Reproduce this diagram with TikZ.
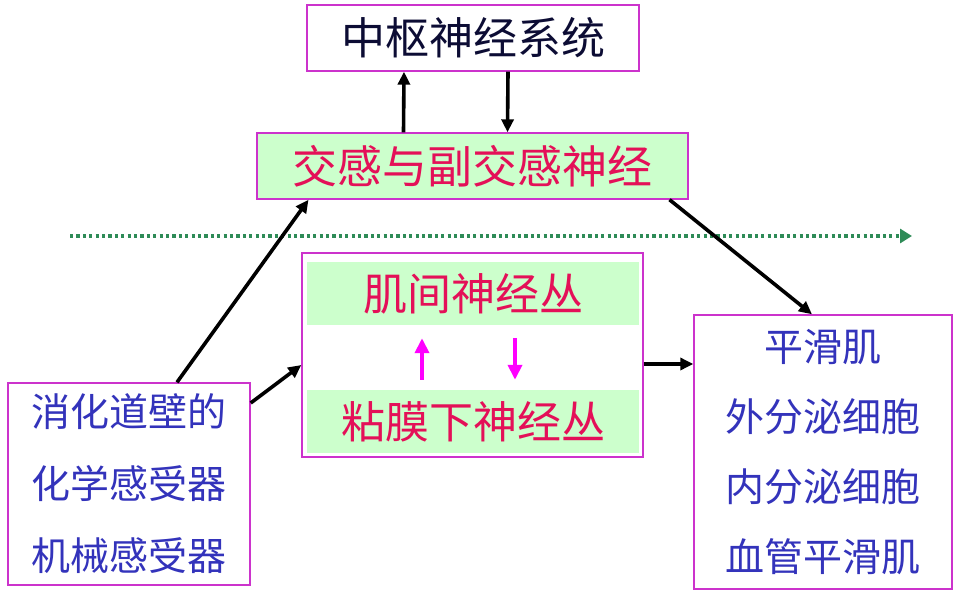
\documentclass[tikz,border=0pt]{standalone}
\usepackage{xcolor}
\usepackage{fontspec}
\setmainfont{Noto Sans CJK SC}
\usepackage{tikz}
\usetikzlibrary{arrows.meta, positioning}

\definecolor{boxline}{RGB}{204,51,204}
\definecolor{paleGreen}{RGB}{204,255,204}
\definecolor{crimsonText}{RGB}{228,16,88}
\definecolor{blueText}{RGB}{51,51,187}
\definecolor{navyText}{RGB}{12,12,52}
\definecolor{dotGreen}{RGB}{46,139,87}
\definecolor{pinkArrow}{RGB}{255,0,255}

\begin{document}
\begin{tikzpicture}[x=1pt, y=-1pt,
    box/.style={draw=boxline, line width=1.4pt, inner sep=0pt},
    band/.style={fill=paleGreen, inner sep=0pt, minimum width=332pt, minimum height=63pt,
        text=crimsonText, font=\fontsize{44}{50}\selectfont},
    conn/.style={-{Triangle[length=13pt, width=12pt]}, line width=3.6pt, black},
    pinkarrow/.style={-{Triangle[length=15pt, width=14pt]}, line width=4.4pt, pinkArrow}]
    \useasboundingbox (0,0) rectangle (962,594);
    % Central nervous system and autonomic nerves
    \node[box, minimum width=332pt, minimum height=66pt, text=navyText,
        font=\fontsize{44}{50}\selectfont] (cns) at (473,38) {中枢神经系统};
    \node[box, fill=paleGreen, minimum width=431pt, minimum height=66pt, text=crimsonText,
        font=\fontsize{45}{50}\selectfont] (ans) at (472.5,166) {交感与副交感神经};
    % Enteric plexuses
    \node[box, minimum width=341pt, minimum height=204pt] (plex) at (472.5,355) {};
    \node[band] (myen) at (473,293.5) {肌间神经丛};
    \node[band] (sub) at (473,421.5) {粘膜下神经丛};
    % Receptors and effectors
    \node[box, minimum width=242pt, minimum height=202pt, align=center, text=blueText,
        font=\fontsize{39}{72}\selectfont] (recep) at (129,484) {消化道壁的\\化学感受器\\机械感受器};
    \node[box, minimum width=258pt, minimum height=274pt, align=center, text=blueText,
        font=\fontsize{39}{70}\selectfont] (eff) at (823,452) {平滑肌\\外分泌细胞\\内分泌细胞\\血管平滑肌};
    % Dotted divider
    \coordinate (lineL) at (70,236);
    \coordinate (lineR) at (912,236);
    \draw[dotGreen, line width=4pt, dash pattern=on 3.2pt off 3.2pt,
        -{Triangle[length=12pt, width=14pt]}] (lineL) -- (lineR);
    % Connectors
    \draw[conn] ([xshift=-69pt]ans.north) -- ([xshift=-69pt]cns.south);
    \draw[conn] ([xshift=35pt]cns.south) -- ([xshift=35pt]ans.north);
    \draw[conn] ([xshift=48pt]recep.north) -- ([xshift=-164pt]ans.south);
    \draw[conn] ([yshift=81pt]recep.east) -- ([yshift=-10pt]plex.west);
    \draw[conn] ([xshift=197pt]ans.south) -- ([xshift=-11pt]eff.north);
    \draw[conn] ([yshift=-9pt]plex.east) -- ([yshift=-9pt]plex.east -| eff.west);
    \draw[pinkarrow, shorten <=10pt, shorten >=13pt] ([xshift=-51pt]sub.north) -- ([xshift=-51pt]myen.south);
    \draw[pinkarrow, shorten <=13pt, shorten >=10pt] ([xshift=42pt]myen.south) -- ([xshift=42pt]sub.north);
\end{tikzpicture}
\end{document}
